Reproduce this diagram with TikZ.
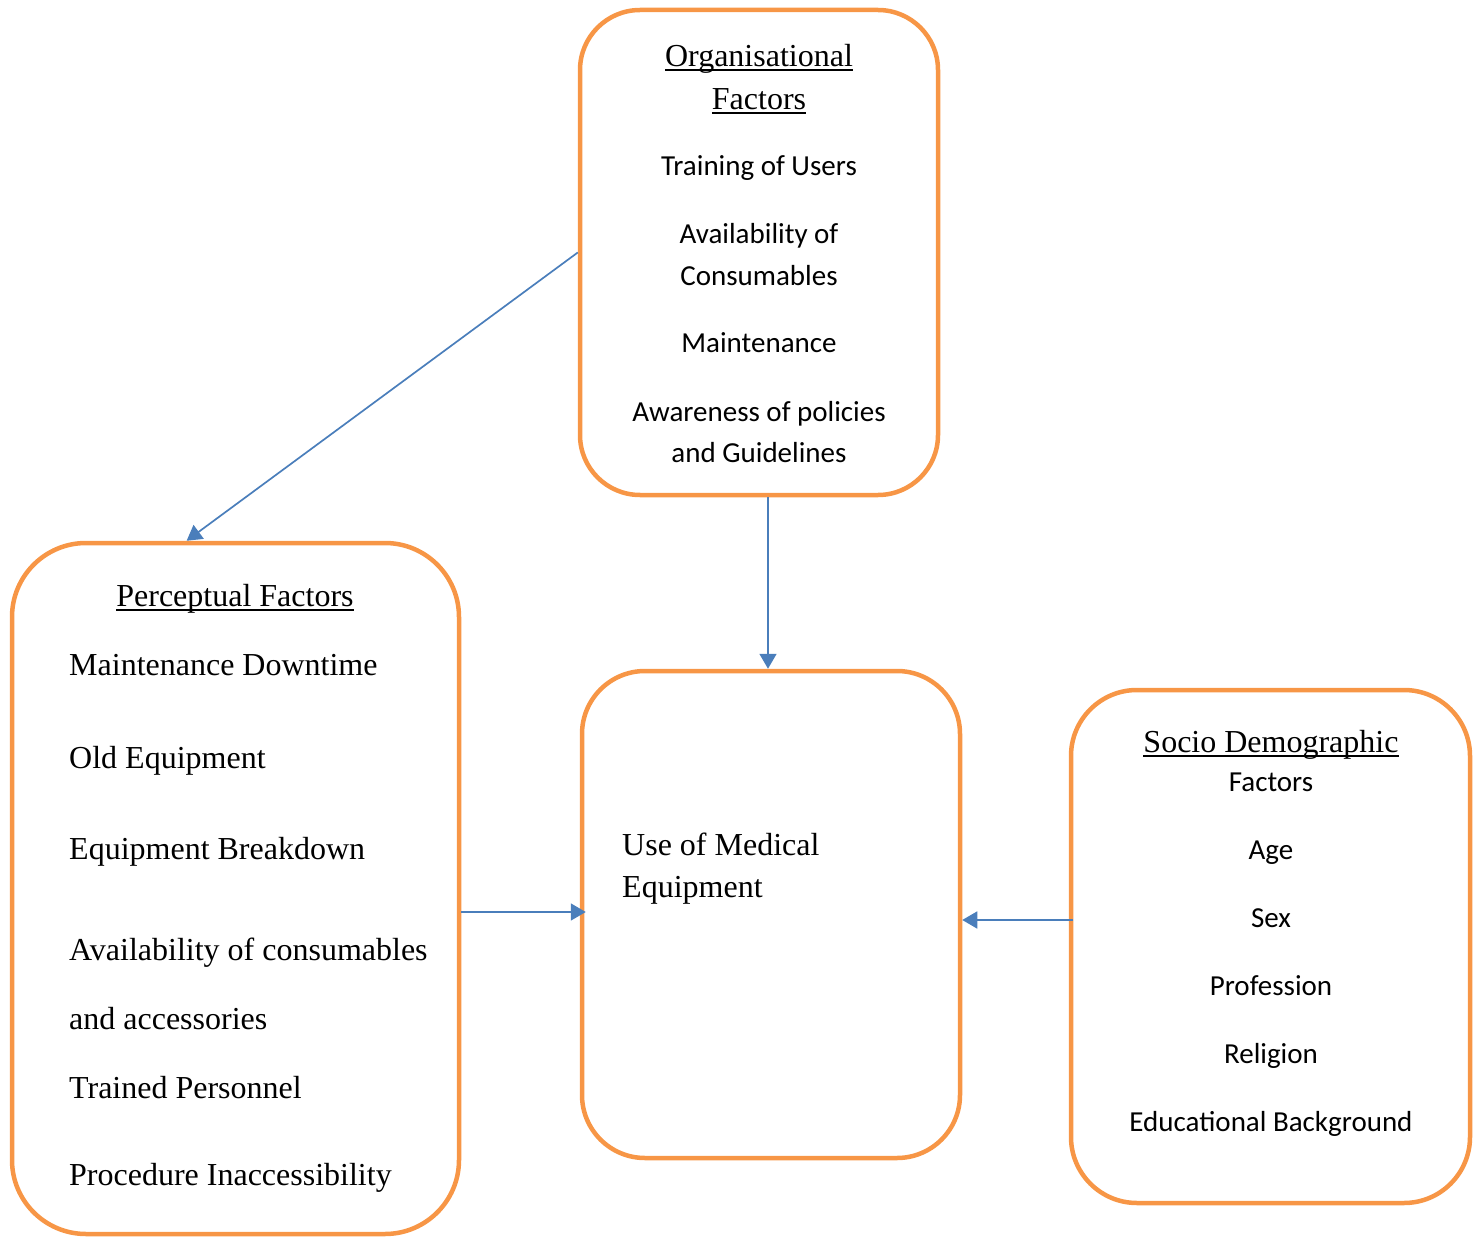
\documentclass[tikz,border=0pt]{standalone}
\usepackage{fontspec}
\setmainfont{Liberation Serif}
\newfontfamily\calibri{Carlito}
\usetikzlibrary{arrows.meta}
\definecolor{boxorange}{HTML}{F79646}
\definecolor{linkblue}{HTML}{4A7EBB}
\newcommand{\ulword}[1]{\setbox0\hbox{#1}\rlap{\vrule height -2.5pt depth 4.5pt width \wd0}\box0}
\tikzset{
  box/.style={draw=boxorange, line width=4.5pt, rectangle, inner sep=0pt},
  serif/.style={font=\fontsize{32}{38}\selectfont, inner sep=0pt},
  sans/.style={font=\calibri\fontsize{29}{35}\selectfont, inner sep=0pt},
  link/.style={draw=linkblue, line width=1.7pt, -{Triangle[length=15pt,width=17pt]}}
}
\begin{document}
\begin{tikzpicture}[x=1pt,y=-1pt]
\useasboundingbox (0,0) rectangle (1478,1238);

\node[box, rounded corners=60pt, minimum width=358pt, minimum height=485pt] (org) at (759,252.5) {};
\node[box, rounded corners=74pt, minimum width=447pt, minimum height=691pt] (perc) at (235.5,888.5) {};
\node[box, rounded corners=63pt, minimum width=378pt, minimum height=487pt] (use) at (771,914.5) {};
\node[box, rounded corners=66pt, minimum width=399pt, minimum height=513pt] (socio) at (1270.5,946.5) {};

\node[serif, anchor=base] (orgA) at (759,67) {\ulword{Organisational}};
\node[serif, anchor=base] (orgB) at (759,110) {\ulword{Factors}};
\node[sans, anchor=base] (orgC) at (759,176) {Training of Users};
\node[sans, anchor=base] (orgD) at (759,244) {Availability of};
\node[sans, anchor=base] (orgE) at (759,286) {Consumables};
\node[sans, anchor=base] (orgF) at (759,353) {Maintenance};
\node[sans, anchor=base] (orgG) at (759,421) {Awareness of policies};
\node[sans, anchor=base] (orgH) at (759,462) {and Guidelines};

\node[serif, anchor=base] (percA) at (235,606) {\ulword{Perceptual Factors}};
\node[serif, anchor=base west] (percB) at (69,675) {Maintenance Downtime};
\node[serif, anchor=base west] (percC) at (69,768) {Old Equipment};
\node[serif, anchor=base west] (percD) at (69,859) {Equipment Breakdown};
\node[serif, anchor=base west] (percE) at (69,960) {Availability of consumables};
\node[serif, anchor=base west] (percF) at (69,1029) {and accessories};
\node[serif, anchor=base west] (percG) at (69,1098) {Trained Personnel};
\node[serif, anchor=base west] (percH) at (69,1185) {Procedure Inaccessibility};

\node[serif, anchor=base west] (useA) at (622,855) {Use of Medical};
\node[serif, anchor=base west] (useB) at (622,897) {Equipment};

\node[serif, anchor=base] (socA) at (1271,752) {\ulword{Socio Demographic}};
\node[sans, anchor=base] (socB) at (1271,791) {Factors};
\node[sans, anchor=base] (socC) at (1271,859) {Age};
\node[sans, anchor=base] (socD) at (1271,927) {Sex};
\node[sans, anchor=base] (socE) at (1271,995) {Profession};
\node[sans, anchor=base] (socF) at (1271,1063) {Religion};
\node[sans, anchor=base] (socG) at (1271,1131) {Educational Background};

\coordinate (orgOut) at (768,497);
\coordinate (percOut) at (461,912);
\coordinate (socOut) at (1073,920);

\draw[link] (org.west) -- (perc.98.3);
\draw[link] (orgOut) -- (orgOut |- use.north);
\draw[link] (percOut) -- ([xshift=6pt]percOut -| use.west);
\draw[link] (socOut) -- (socOut -| use.east);

\end{tikzpicture}
\end{document}
